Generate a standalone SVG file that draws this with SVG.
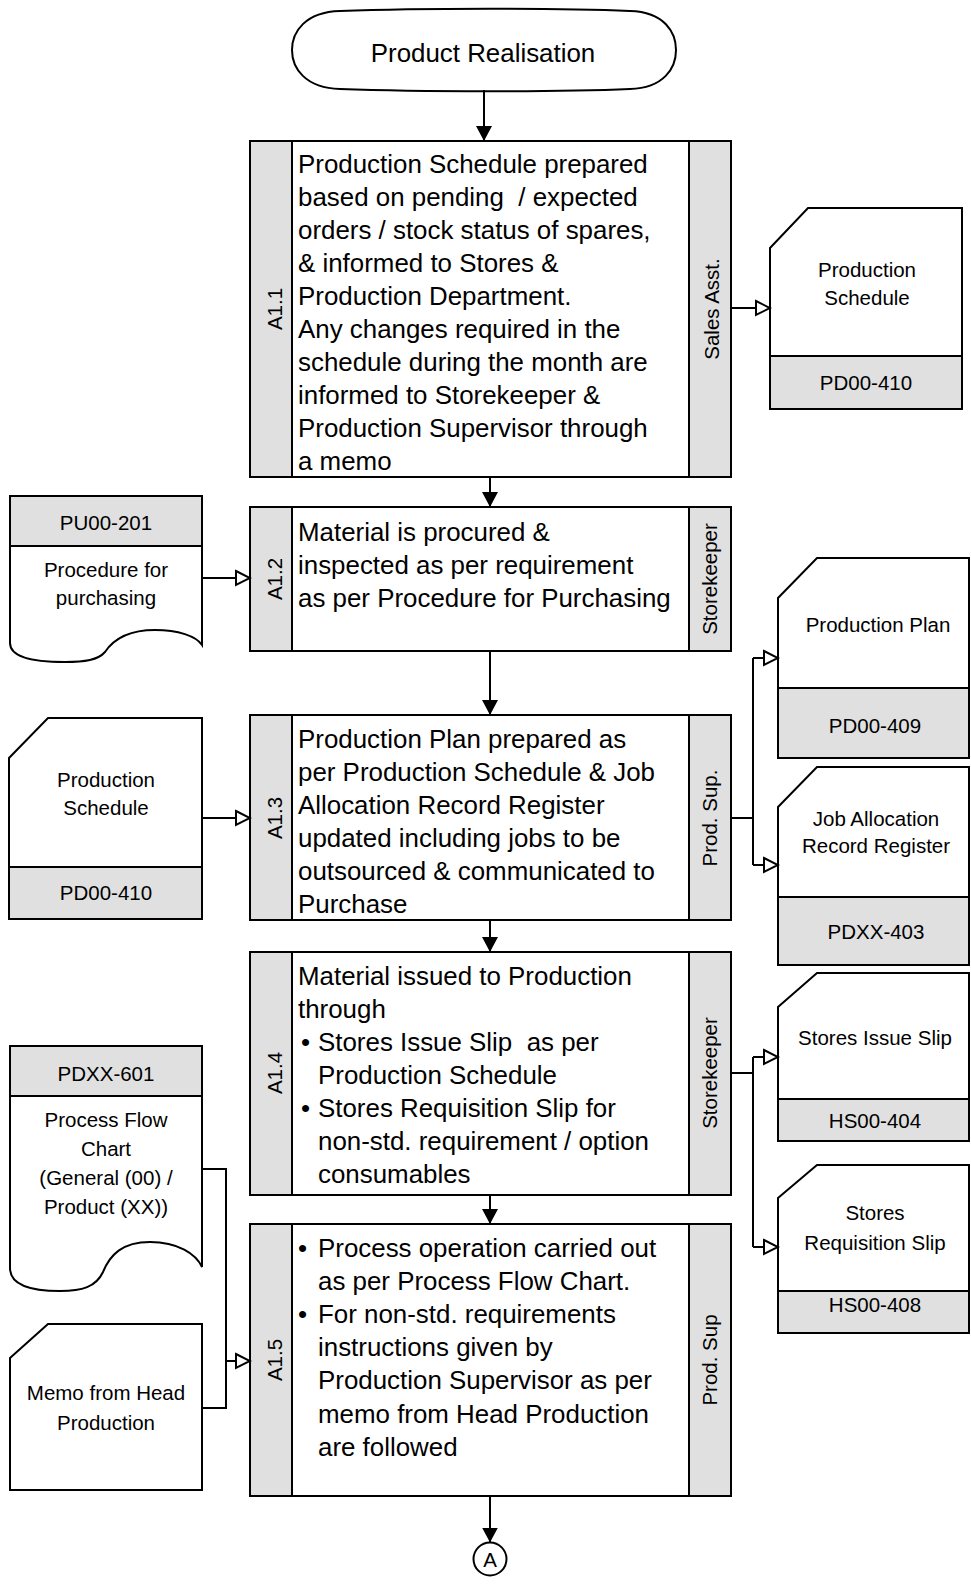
<svg xmlns="http://www.w3.org/2000/svg" width="971" height="1584" viewBox="0 0 971 1584">
<style>
.s{fill:none;stroke:#000;stroke-width:2}
.w{fill:#fff;stroke:#000;stroke-width:2}
.g{fill:#e0e0e0;stroke:#000;stroke-width:2}
.t{font-family:"Liberation Sans",Arial,sans-serif;font-size:25.9px;fill:#000}
.m{font-family:"Liberation Sans",Arial,sans-serif;font-size:20.5px;fill:#000;text-anchor:middle}
.c{fill:none;stroke:#000;stroke-width:2}
</style>
<defs>
<marker id="fa" markerUnits="userSpaceOnUse" markerWidth="16" markerHeight="16" refX="15" refY="8" orient="auto">
<path d="M0,0 L15,8 L0,16 Z" fill="#000"/>
</marker>
<marker id="ha" markerUnits="userSpaceOnUse" markerWidth="18" markerHeight="18" refX="16" refY="9" orient="auto">
<path d="M2,2 L16,9 L2,16 Z" fill="#fff" stroke="#000" stroke-width="2"/>
</marker>
</defs>
<rect width="971" height="1584" fill="#fff"/>

<g id="start">
<path class="w" d="M340,11 C420,8 560,8 630,11 C665,12 676,33 676,50 C676,68 664,88 630,89 C560,92 420,92 340,89 C305,88 292,68 292,50 C292,32 305,12 340,11 Z"/>
<text class="t" x="483" y="62" text-anchor="middle">Product Realisation</text>
</g>

<g id="a11">
<rect class="g" x="250" y="141" width="42" height="336"/>
<rect class="w" x="292" y="141" width="397" height="336"/>
<rect class="g" x="689" y="141" width="42" height="336"/>
<text class="m" transform="translate(282,309) rotate(-90)">A1.1</text>
<text class="m" transform="translate(719,309) rotate(-90)">Sales Asst.</text>
<text class="t" xml:space="preserve"><tspan x="298" y="173">Production Schedule prepared</tspan><tspan x="298" y="206">based on pending  / expected</tspan><tspan x="298" y="239">orders / stock status of spares,</tspan><tspan x="298" y="272">&amp; informed to Stores &amp;</tspan><tspan x="298" y="305">Production Department.</tspan><tspan x="298" y="338">Any changes required in the</tspan><tspan x="298" y="371">schedule during the month are</tspan><tspan x="298" y="404">informed to Storekeeper &amp;</tspan><tspan x="298" y="437">Production Supervisor through</tspan><tspan x="298" y="470">a memo</tspan></text>
</g>

<g id="a12">
<rect class="g" x="250" y="507" width="42" height="144"/>
<rect class="w" x="292" y="507" width="397" height="144"/>
<rect class="g" x="689" y="507" width="42" height="144"/>
<text class="m" transform="translate(282,579) rotate(-90)">A1.2</text>
<text class="m" transform="translate(717,579) rotate(-90)">Storekeeper</text>
<text class="t"><tspan x="298" y="541">Material is procured &amp;</tspan><tspan x="298" y="574">inspected as per requirement</tspan><tspan x="298" y="607">as per Procedure for Purchasing</tspan></text>
</g>

<g id="a13">
<rect class="g" x="250" y="715" width="42" height="205"/>
<rect class="w" x="292" y="715" width="397" height="205"/>
<rect class="g" x="689" y="715" width="42" height="205"/>
<text class="m" transform="translate(282,818) rotate(-90)">A1.3</text>
<text class="m" transform="translate(717,818) rotate(-90)">Prod. Sup.</text>
<text class="t"><tspan x="298" y="748">Production Plan prepared as</tspan><tspan x="298" y="781">per Production Schedule &amp; Job</tspan><tspan x="298" y="814">Allocation Record Register</tspan><tspan x="298" y="847">updated including jobs to be</tspan><tspan x="298" y="880">outsourced &amp; communicated to</tspan><tspan x="298" y="913">Purchase</tspan></text>
</g>

<g id="a14">
<rect class="g" x="250" y="952" width="42" height="243"/>
<rect class="w" x="292" y="952" width="397" height="243"/>
<rect class="g" x="689" y="952" width="42" height="243"/>
<text class="m" transform="translate(282,1073) rotate(-90)">A1.4</text>
<text class="m" transform="translate(717,1073) rotate(-90)">Storekeeper</text>
<text class="t" xml:space="preserve"><tspan x="298" y="985">Material issued to Production</tspan><tspan x="298" y="1018">through</tspan><tspan x="301" y="1051">•</tspan><tspan x="318" y="1051">Stores Issue Slip  as per</tspan><tspan x="318" y="1084">Production Schedule</tspan><tspan x="301" y="1117">•</tspan><tspan x="318" y="1117">Stores Requisition Slip for</tspan><tspan x="318" y="1150">non-std. requirement / option</tspan><tspan x="318" y="1183">consumables</tspan></text>
</g>

<g id="a15">
<rect class="g" x="250" y="1224" width="42" height="272"/>
<rect class="w" x="292" y="1224" width="397" height="272"/>
<rect class="g" x="689" y="1224" width="42" height="272"/>
<text class="m" transform="translate(282,1360) rotate(-90)">A1.5</text>
<text class="m" transform="translate(717,1360) rotate(-90)">Prod. Sup</text>
<text class="t"><tspan x="298" y="1257">•</tspan><tspan x="318" y="1257">Process operation carried out</tspan><tspan x="318" y="1290">as per Process Flow Chart.</tspan><tspan x="298" y="1323">•</tspan><tspan x="318" y="1323">For non-std. requirements</tspan><tspan x="318" y="1356">instructions given by</tspan><tspan x="318" y="1389">Production Supervisor as per</tspan><tspan x="318" y="1423">memo from Head Production</tspan><tspan x="318" y="1456">are followed</tspan></text>
</g>

<g id="end">
<circle class="w" cx="490" cy="1559" r="16.5"/>
<text class="m" x="490" y="1566.5">A</text>
</g>

<g id="doc-ps-right">
<path class="w" d="M770,248 L808,208 L962,208 L962,409 L770,409 Z"/>
<rect class="g" x="770" y="356" width="192" height="53"/>
<text class="m"><tspan x="867" y="277">Production</tspan><tspan x="867" y="305">Schedule</tspan></text>
<text class="m" x="866" y="390">PD00-410</text>
</g>

<g id="doc-proc">
<path class="w" d="M10,496 H202 V645 C196,636 178,630 155,630 C128,630 113,640 105,652 C98,660 85,662 65,662 C35,662 10,658 10,643 Z"/>
<rect class="g" x="10" y="496" width="192" height="50"/>
<text class="m" x="106" y="530">PU00-201</text>
<text class="m"><tspan x="106" y="577">Procedure for</tspan><tspan x="106" y="605">purchasing</tspan></text>
</g>

<g id="doc-ps-left">
<path class="w" d="M9,758 L48,718 L202,718 L202,919 L9,919 Z"/>
<rect class="g" x="9" y="867" width="193" height="52"/>
<text class="m"><tspan x="106" y="787">Production</tspan><tspan x="106" y="815">Schedule</tspan></text>
<text class="m" x="106" y="900">PD00-410</text>
</g>

<g id="doc-pp">
<path class="w" d="M778,598 L817,558 L969,558 L969,758 L778,758 Z"/>
<rect class="g" x="778" y="688" width="191" height="70"/>
<text class="m" x="878" y="632">Production Plan</text>
<text class="m" x="875" y="733">PD00-409</text>
</g>

<g id="doc-jar">
<path class="w" d="M778,807 L817,767 L969,767 L969,965 L778,965 Z"/>
<rect class="g" x="778" y="897" width="191" height="68"/>
<text class="m"><tspan x="876" y="826">Job Allocation</tspan><tspan x="876" y="853">Record Register</tspan></text>
<text class="m" x="876" y="939">PDXX-403</text>
</g>

<g id="doc-sis">
<path class="w" d="M778,1007 L817,973 L969,973 L969,1141 L778,1141 Z"/>
<rect class="g" x="778" y="1099" width="191" height="42"/>
<text class="m" x="875" y="1045">Stores Issue Slip</text>
<text class="m" x="875" y="1128">HS00-404</text>
</g>

<g id="doc-srs">
<path class="w" d="M778,1198 L817,1165 L969,1165 L969,1333 L778,1333 Z"/>
<rect class="g" x="778" y="1291" width="191" height="42"/>
<text class="m"><tspan x="875" y="1220">Stores</tspan><tspan x="875" y="1250">Requisition Slip</tspan></text>
<text class="m" x="875" y="1312">HS00-408</text>
</g>

<g id="doc-pfc">
<path class="w" d="M10,1046 H202 V1267 C196,1254 178,1242 150,1242 C122,1242 110,1255 103,1272 C96,1287 82,1291 60,1291 C30,1291 10,1285 10,1268 Z"/>
<rect class="g" x="10" y="1046" width="192" height="50"/>
<text class="m" x="106" y="1081">PDXX-601</text>
<text class="m"><tspan x="106" y="1127">Process Flow</tspan><tspan x="106" y="1156">Chart</tspan><tspan x="106" y="1185">(General (00) /</tspan><tspan x="106" y="1214">Product (XX))</tspan></text>
</g>

<g id="doc-memo">
<path class="w" d="M10,1358 L48,1324 L202,1324 L202,1490 L10,1490 Z"/>
<text class="m"><tspan x="106" y="1400">Memo from Head</tspan><tspan x="106" y="1430">Production</tspan></text>
</g>

<g id="connectors">
<path class="c" d="M484,90 V141" marker-end="url(#fa)"/>
<path class="c" d="M490,477 V507" marker-end="url(#fa)"/>
<path class="c" d="M490,651 V715" marker-end="url(#fa)"/>
<path class="c" d="M490,920 V952" marker-end="url(#fa)"/>
<path class="c" d="M490,1195 V1224" marker-end="url(#fa)"/>
<path class="c" d="M490,1496 V1542.5" marker-end="url(#fa)"/>
<path class="c" d="M731,308 H770" marker-end="url(#ha)"/>
<path class="c" d="M202,578 H250" marker-end="url(#ha)"/>
<path class="c" d="M202,818 H250" marker-end="url(#ha)"/>
<path class="c" d="M731,818 H753 M753,658 V865"/>
<path class="c" d="M753,658 H778" marker-end="url(#ha)"/>
<path class="c" d="M753,865 H778" marker-end="url(#ha)"/>
<path class="c" d="M731,1073 H753 M753,1057 V1247"/>
<path class="c" d="M753,1057 H778" marker-end="url(#ha)"/>
<path class="c" d="M753,1247 H778" marker-end="url(#ha)"/>
<path class="c" d="M202,1169 H226 V1408 H202"/>
<path class="c" d="M226,1361 H250" marker-end="url(#ha)"/>
</g>
</svg>
